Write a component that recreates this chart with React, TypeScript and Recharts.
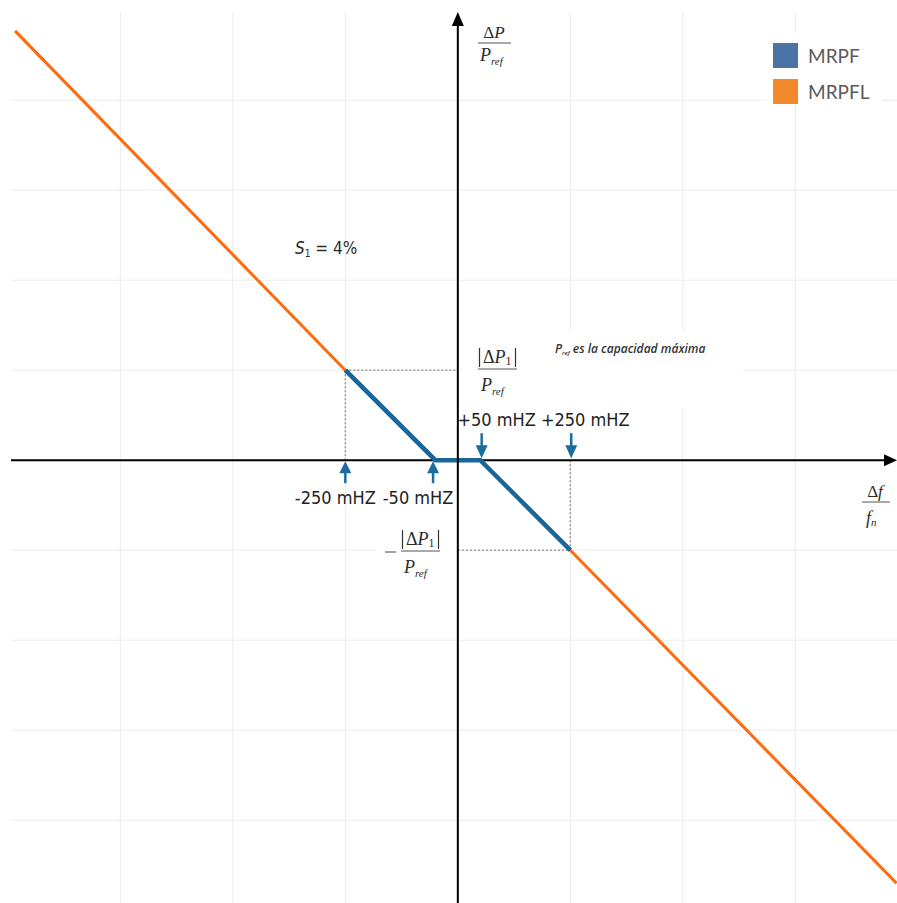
import React from "react";
import {
  LineChart,
  Line,
  XAxis,
  YAxis,
  CartesianGrid,
  ReferenceLine,
  ReferenceDot,
  Legend,
  Customized,
} from "recharts";

// frequency deviation (mHz) and power change (% of Pref)
const freqMHz = [-984, -250, -50, 50, 250, 975];
const mrpflPct = [47.7, 10, 0, 0, -10, -47];
const mrpfPct: (number | null)[] = [null, 10, 0, 0, -10, null];

const seriesNames = ["MRPF", "MRPFL"];
const seriesColors = ["#1b6699", "#ff6a0d"];
const legendColors = ["#4a74a6", "#f28a2c"];

const gridTicksX = [-750, -500, -250, 0, 250, 500, 750];
const gridTicksY = [-40, -30, -20, -10, 0, 10, 20, 30, 40];

// band markers
const arrowUpFreq = [-250, -55];
const arrowUpLabels = ["-250 mHZ", "-50 mHZ"];
const arrowDownFreq = [53, 252];
const arrowDownLabels = ["+50 mHZ", "+250 mHZ"];

const data = freqMHz.map((f, i) => ({ f, mrpfl: mrpflPct[i], mrpf: mrpfPct[i] }));

const ARROW = "#1a6ca1";
const LABEL_STYLE: React.CSSProperties = {
  fontFamily: "'DejaVu Sans Condensed', 'DejaVu Sans', sans-serif",
  fontStretch: "condensed",
};
const MATH_FONT = "'Liberation Serif', 'DejaVu Serif', serif";

const upDx = [-10, -15];
const downDx = [15, 14];

const noTick = () => null;

function arrowUp(dx: number, label: string) {
  return (p: any) => {
    const { cx, cy } = p;
    return (
      <g>
        <line x1={cx} y1={cy + 23} x2={cx} y2={cy + 10} stroke={ARROW} strokeWidth={2.5} />
        <polygon points={`${cx},${cy + 1} ${cx - 6},${cy + 13} ${cx + 6},${cy + 13}`} fill={ARROW} />
        <text x={cx + dx} y={cy + 44} textAnchor="middle" style={LABEL_STYLE} fontSize={18} fill="#222">
          {label}
        </text>
      </g>
    );
  };
}

function arrowDown(dx: number, label: string) {
  return (p: any) => {
    const { cx, cy } = p;
    return (
      <g>
        <line x1={cx} y1={cy - 27} x2={cx} y2={cy - 12} stroke={ARROW} strokeWidth={2.5} />
        <polygon points={`${cx},${cy - 2} ${cx - 6},${cy - 15} ${cx + 6},${cy - 15}`} fill={ARROW} />
        <text x={cx + dx} y={cy - 34} textAnchor="middle" style={LABEL_STYLE} fontSize={18} fill="#222">
          {label}
        </text>
      </g>
    );
  };
}

const yAxisArrow = (p: any) => {
  const top = Math.min(p.y1, p.y2);
  const bottom = Math.max(p.y1, p.y2);
  const x = p.x1;
  return (
    <g>
      <line x1={x} y1={top + 10} x2={x} y2={bottom} stroke="#000" strokeWidth={2} />
      <polygon points={`${x},${top} ${x - 6},${top + 14} ${x + 6},${top + 14}`} fill="#000" />
    </g>
  );
};

const xAxisArrow = (p: any) => {
  const left = Math.min(p.x1, p.x2);
  const right = Math.max(p.x1, p.x2);
  const y = p.y1;
  return (
    <g>
      <line x1={left} y1={y} x2={right - 8} y2={y} stroke="#000" strokeWidth={2} />
      <polygon points={`${right},${y} ${right - 13},${y - 6} ${right - 13},${y + 6}`} fill="#000" />
    </g>
  );
};

const BackBoxes = () => (
  <g>
    <rect x={462} y={330} width={281} height={77} fill="#fff" />
    <rect x={376} y={527} width={80} height={60} fill="#fff" />
  </g>
);

// |ΔP1| / Pref fraction, left edge x, fraction bar at y
const AbsFrac = ({ x, y }: { x: number; y: number }) => (
  <g fontFamily={MATH_FONT} fill="#2a2a2a">
    <line x1={x + 1.5} y1={y - 21} x2={x + 1.5} y2={y - 2} stroke="#333" strokeWidth={1.2} />
    <line x1={x + 37.5} y1={y - 21} x2={x + 37.5} y2={y - 2} stroke="#333" strokeWidth={1.2} />
    <text x={x + 5} y={y - 6} fontSize={18}>
      Δ<tspan fontStyle="italic">P</tspan>
      <tspan fontSize={12} dy={2}>1</tspan>
    </text>
    <line x1={x} y1={y} x2={x + 39} y2={y} stroke="#555" strokeWidth={1} />
    <text x={x + 3} y={y + 22} fontSize={18} fontStyle="italic">
      P<tspan fontSize={11} dy={4}>ref</tspan>
    </text>
  </g>
);

const Annotations = () => (
  <g>
    {/* y axis title */}
    <g fontFamily={MATH_FONT} fill="#2a2a2a">
      <text x={494} y={38} textAnchor="middle" fontSize={17}>
        Δ<tspan fontStyle="italic">P</tspan>
      </text>
      <line x1={478} y1={43} x2={511} y2={43} stroke="#555" strokeWidth={1} />
      <text x={480} y={61} fontSize={18} fontStyle="italic">
        P<tspan fontSize={11} dy={4}>ref</tspan>
      </text>
    </g>
    <AbsFrac x={478} y={369} />
    <line x1={385} y1={552} x2={396} y2={552} stroke="#444" strokeWidth={1} />
    <AbsFrac x={401} y={551} />
    {/* Δf / fn */}
    <g fontFamily={MATH_FONT} fill="#2a2a2a">
      <text x={875} y={497} textAnchor="middle" fontSize={17}>
        Δ<tspan fontStyle="italic">f</tspan>
      </text>
      <line x1={862} y1={502} x2={890} y2={502} stroke="#555" strokeWidth={1} />
      <text x={866} y={524} fontSize={18} fontStyle="italic">
        f<tspan fontSize={11} dy={2}>n</tspan>
      </text>
    </g>
    {/* droop */}
    <text x={295} y={254} style={LABEL_STYLE} fontSize={17} fill="#2a2a2a">
      <tspan fontStyle="italic">S</tspan>
      <tspan fontSize={10} dy={3}>1</tspan>
      <tspan dy={-3}> = 4%</tspan>
    </text>
    {/* note */}
    <text x={555} y={353} fontFamily="'Open Sans', sans-serif" fontSize={12} fontStyle="italic" fontWeight={600} fill="#333">
      P<tspan fontSize={6} dy={2}>ref</tspan>
      <tspan dy={-2}> es la capacidad máxima</tspan>
    </text>
  </g>
);

const LegendBox = () => (
  <div style={{ background: "#fff", padding: "4px 0 0 8px", width: 117, height: 70, boxSizing: "border-box" }}>
    {seriesNames.map((n, i) => (
      <div key={n} style={{ display: "flex", alignItems: "center", height: 36 }}>
        <span style={{ width: 25, height: 25, background: legendColors[i], display: "inline-block" }} />
        <span style={{ marginLeft: 10, fontFamily: "Lato, 'Noto Sans', sans-serif", fontSize: 19, color: "#5a5a5a" }}>{n}</span>
      </div>
    ))}
  </div>
);

export default function App() {
  return (
    <div style={{ position: "absolute", left: 0, top: 0, width: 897, height: 903, background: "#fff" }}>
      <LineChart width={897} height={903} data={data} margin={{ top: 12, right: 0, bottom: 0, left: 11 }}>
        <XAxis
          type="number"
          dataKey="f"
          domain={[-993, 976]}
          ticks={gridTicksX}
          interval={0}
          tick={noTick}
          tickLine={false}
          axisLine={false}
          height={0}
          allowDataOverflow
        />
        <YAxis
          type="number"
          domain={[-49.2, 49.8]}
          ticks={gridTicksY}
          interval={0}
          tick={noTick}
          tickLine={false}
          axisLine={false}
          width={0}
          allowDataOverflow
        />
        <CartesianGrid stroke="#ececec" strokeWidth={1} syncWithTicks />
        <Customized component={BackBoxes} />
        <Legend
          layout="horizontal"
          verticalAlign="middle"
          align="center"
          wrapperStyle={{ left: 765, top: 33, width: 117, height: 70 }}
          content={() => <LegendBox />}
        />
        <ReferenceLine
          segment={[{ x: freqMHz[1], y: 0 }, { x: freqMHz[1], y: mrpflPct[1] }]}
          stroke="#9a9a9a"
          strokeDasharray="2 2"
          strokeWidth={1.5}
        />
        <ReferenceLine
          segment={[{ x: freqMHz[1], y: mrpflPct[1] }, { x: 0, y: mrpflPct[1] }]}
          stroke="#9a9a9a"
          strokeDasharray="2 2"
          strokeWidth={1.5}
        />
        <ReferenceLine
          segment={[{ x: freqMHz[4], y: 0 }, { x: freqMHz[4], y: mrpflPct[4] }]}
          stroke="#9a9a9a"
          strokeDasharray="2 2"
          strokeWidth={1.5}
        />
        <ReferenceLine
          segment={[{ x: 0, y: mrpflPct[4] }, { x: freqMHz[4], y: mrpflPct[4] }]}
          stroke="#9a9a9a"
          strokeDasharray="2 2"
          strokeWidth={1.5}
        />
        <ReferenceLine y={0} shape={xAxisArrow} />
        <Line
          dataKey="mrpfl"
          name={seriesNames[1]}
          stroke={seriesColors[1]}
          strokeWidth={3}
          dot={false}
          activeDot={false}
          isAnimationActive={false}
          type="linear"
        />
        <Line
          dataKey="mrpf"
          name={seriesNames[0]}
          stroke={seriesColors[0]}
          strokeWidth={4.5}
          dot={false}
          activeDot={false}
          isAnimationActive={false}
          type="linear"
        />
        <ReferenceLine x={0} shape={yAxisArrow} />
        {arrowUpFreq.map((f, i) => (
          <ReferenceDot key={"u" + f} x={f} y={0} r={1} shape={arrowUp(upDx[i], arrowUpLabels[i])} />
        ))}
        {arrowDownFreq.map((f, i) => (
          <ReferenceDot key={"d" + f} x={f} y={0} r={1} shape={arrowDown(downDx[i], arrowDownLabels[i])} />
        ))}
        <Customized component={Annotations} />
      </LineChart>
    </div>
  );
}
